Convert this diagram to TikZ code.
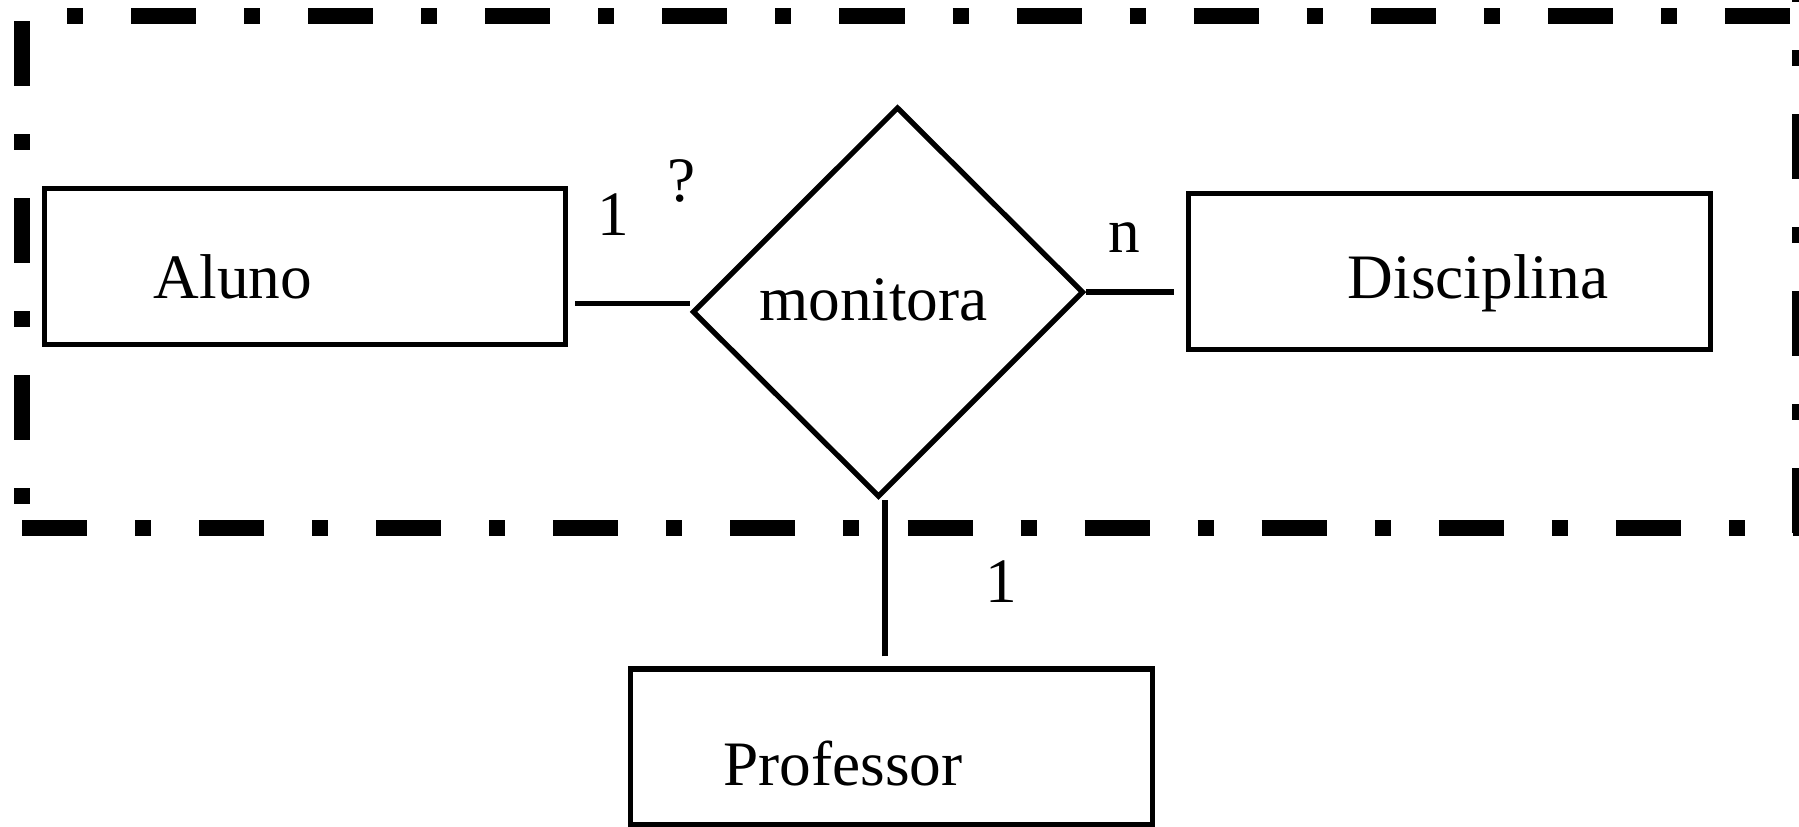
\documentclass[tikz,border=0pt]{standalone}
\usepackage{fontspec}
\setmainfont{Liberation Serif}
\usetikzlibrary{shapes.geometric}

\begin{document}
\begin{tikzpicture}[
    x=0.01cm, y=-0.01cm,
    font=\fontsize{18}{22}\selectfont,
    entity/.style={rectangle,draw,line width=1.5pt,inner sep=0pt,minimum width=5.21cm,minimum height=1.56cm},
    relation/.style={diamond,draw,line width=1.5pt,inner sep=0pt,aspect=1,minimum size=3.9cm,xslant=0.049,yslant=0.051},
    card/.style={anchor=base,inner sep=0pt},
    link/.style={line width=1.5pt},
    frame/.style={line width=4.55pt,dash pattern=on 0.65cm off 0.48cm on 0.16cm off 0.48cm}
    ]

    \useasboundingbox (0,0) rectangle (1799,826);

    % dash-dotted frame:
    \coordinate (ftl) at (22,16);
    \coordinate (fbl) at (22,528);
    \coordinate (fbr) at (1800,528);
    \draw [frame, dash phase=1.13cm] ([xshift=0.45cm]ftl) -- (ftl -| fbr);
    \draw [frame] ([yshift=-0.05cm]ftl) -- ([yshift=0.24cm]fbl);
    \draw [frame] (fbl) -- ([xshift=0.1cm]fbr);
    \draw [frame] ([yshift=-0.05cm]fbr) -- ([yshift=0.3cm]ftl -| fbr);

    % entities:
    \node (aluno) at (305,266.5) [entity, label={[shift={(-72,10)}]center:Aluno}] {};
    \node (disc) at (1449.5,271.5) [entity, label={[shift={(28.5,11.5)}]center:Disciplina}] {};
    \node (prof) at (891.5,747) [entity, label={[shift={(-48.5,17)}]center:Professor}] {};

    % relationship:
    \node (rel) at (888,302) [relation, label={[shift={(-14.5,-2)}]center:monitora}] {};

    % cardinalities:
    \node (c1) at (613,235) [card] {1};
    \node (cq) at (682,201) [card] {?};
    \node (cn) at (1124,252) [card] {n};
    \node (c2) at (1001,602) [card] {1};

    % connect nodes:
    \coordinate (la) at ([shift={(7,37)}]aluno.east);
    \coordinate (lp) at ([shift={(-6.5,-10)}]prof.north);
    \draw [link] (la) -- (la -| rel.west);
    \draw [link] (rel.east) -- ([xshift=-0.12cm]disc.west |- rel.east);
    \draw [link] (lp) -- (lp |- rel.south);

\end{tikzpicture}
\end{document}
